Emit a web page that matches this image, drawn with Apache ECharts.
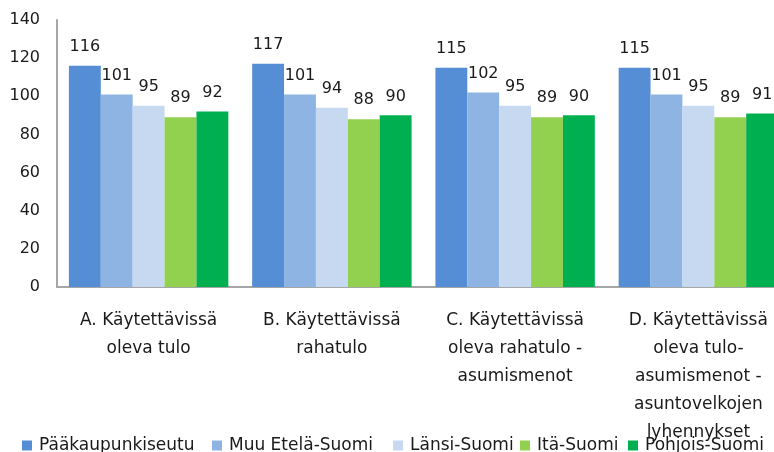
<!DOCTYPE html>
<html>
<head>
    <meta charset="utf-8">
    <script src="https://cdn.jsdelivr.net/npm/echarts@6/dist/echarts.min.js"></script>
    <style>
        html, body {
            margin: 0;
            padding: 0;
            background: #ffffff;
        }

        .bar-wrap {
            width: 774px;
            height: 452px;
        }
    </style>
</head>
<body>
<div id="chartBar" class="bar-wrap"></div>
<script>
    // luokat (x-akseli)
    const categories = [
        'A. Käytettävissä\noleva tulo',
        'B. Käytettävissä\nrahatulo',
        'C. Käytettävissä\noleva rahatulo -\nasumismenot',
        'D. Käytettävissä\noleva tulo-\nasumismenot -\nasuntovelkojen\nlyhennykset'
    ];
    // alueet
    const regions = ['Pääkaupunkiseutu', 'Muu Etelä-Suomi', 'Länsi-Suomi', 'Itä-Suomi', 'Pohjois-Suomi'];
    const colors = ['#558ed5', '#8eb4e3', '#c6d9f1', '#92d050', '#00b050'];
    // arvot alueittain
    const paakaupunkiseutu = [116, 117, 115, 115];
    const muuEtelaSuomi = [101, 101, 102, 101];
    const lansiSuomi = [95, 94, 95, 95];
    const itaSuomi = [89, 88, 89, 89];
    const pohjoisSuomi = [92, 90, 90, 91];
    const yTicks = [0, 20, 40, 60, 80, 100, 120, 140];

    const seriesData = [paakaupunkiseutu, muuEtelaSuomi, lansiSuomi, itaSuomi, pohjoisSuomi];
    const legendLeft = [22, 212, 393, 520, 628];//legendan paikat

    let fontName = '"DejaVu Sans", sans-serif';

    let chartBar = echarts.init(document.getElementById('chartBar'), null, {renderer: 'canvas'});
    chartBar.setOption({
        animation: false,
        color: colors,
        textStyle: {
            fontFamily: fontName
        },
        legend: regions.map(function (name, i) {
            return {
                data: [name],
                left: legendLeft[i],
                top: 437,
                padding: 0,
                itemWidth: 10,
                itemHeight: 10,
                icon: 'rect',
                textStyle: {
                    fontFamily: fontName,
                    fontSize: 17,
                    color: '#1a1a1a',
                    padding: [0, 0, 0, 2]
                }
            };
        }),
        grid: {
            left: 57,
            top: 20,
            width: 733,
            bottom: 165,
            outerBoundsMode: 'none'
        },
        xAxis: {
            type: 'category',
            data: categories,
            axisLine: {
                show: true,
                lineStyle: {color: '#a6a6a6', width: 2}
            },
            axisTick: {show: false},
            axisLabel: {
                interval: 0,
                margin: 20,
                fontSize: 17,
                lineHeight: 28,
                color: '#1a1a1a',
                fontFamily: fontName
            }
        },
        yAxis: {
            type: 'value',
            min: yTicks[0],
            max: yTicks[yTicks.length - 1],
            interval: 20,
            splitLine: {show: false},
            axisTick: {show: false},
            axisLine: {
                show: true,
                lineStyle: {color: '#a6a6a6', width: 2}
            },
            axisLabel: {
                margin: 17,
                fontSize: 16,
                color: '#1a1a1a',
                fontFamily: fontName
            }
        },
        series: regions.map(function (name, i) {
            return {
                name: name,
                type: 'bar',
                barGap: '0%',
                barCategoryGap: '13%',
                data: seriesData[i],
                itemStyle: {
                    color: colors[i]
                },
                label: {
                    show: true,
                    position: 'top',
                    distance: 11,
                    fontSize: 16,
                    color: '#1a1a1a',
                    fontFamily: fontName
                }
            };
        })
    });
</script>
</body>
</html>
